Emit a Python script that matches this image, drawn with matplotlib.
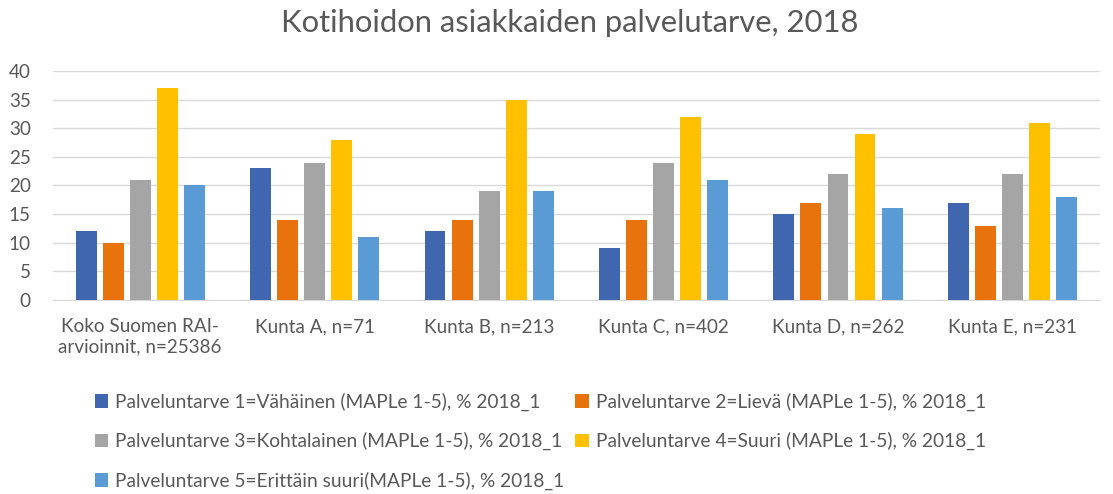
import numpy as np
import matplotlib
matplotlib.use("Agg")
import matplotlib.pyplot as plt

plt.rcParams['font.family'] = ['Lato', 'DejaVu Sans']

kategoriat = ["Koko Suomen RAI-\narvioinnit, n=25386", "Kunta A, n=71", "Kunta B, n=213",
              "Kunta C, n=402", "Kunta D, n=262", "Kunta E, n=231"]
sarjat = ["Palveluntarve 1=Vähäinen (MAPLe 1-5), % 2018_1",
          "Palveluntarve 2=Lievä (MAPLe 1-5), % 2018_1",
          "Palveluntarve 3=Kohtalainen (MAPLe 1-5), % 2018_1",
          "Palveluntarve 4=Suuri (MAPLe 1-5), % 2018_1",
          "Palveluntarve 5=Erittäin suuri(MAPLe 1-5), % 2018_1"]
tarve1 = [12, 23, 12, 9, 15, 17]
tarve2 = [10, 14, 14, 14, 17, 13]
tarve3 = [21, 24, 19, 24, 22, 22]
tarve4 = [37, 28, 35, 32, 29, 31]
tarve5 = [20, 11, 19, 21, 16, 18]
arvot = [tarve1, tarve2, tarve3, tarve4, tarve5]
varit = ["#4066B0", "#E8720C", "#A5A5A5", "#FFC000", "#5B9BD5"]
teksti = "#595959"

fig = plt.figure(figsize=(11.13, 4.94), dpi=100)
ax = fig.add_axes([0.0476, 0.3927, 0.9404, 0.4636])

x = np.arange(len(kategoriat))
leveys = 0.12
askel = 0.155
palkit = []
for i, (nimi, v, c) in enumerate(zip(sarjat, arvot, varit)):
    b = ax.bar(x + (i - 2) * askel, v, width=leveys, color=c, label=nimi, zorder=3)
    palkit.append(b)

ax.set_xlim(-0.5, len(kategoriat) - 0.5)
ax.set_ylim(0, 40)
ax.set_yticks(range(0, 41, 5))
ax.yaxis.grid(True, color="#D9D9D9", lw=1, zorder=0)
for s in ["top", "right", "left"]:
    ax.spines[s].set_visible(False)
ax.spines["bottom"].set_color("#D9D9D9")
ax.tick_params(axis="both", length=0, colors=teksti, labelsize=13.6)
ax.tick_params(axis="y", pad=16)
ax.tick_params(axis="x", pad=13)
ax.set_xticks(x)
ax.set_xticklabels(kategoriat, linespacing=1.25)

fig.suptitle("Kotihoidon asiakkaiden palvelutarve, 2018", x=0.512, y=0.982,
             fontsize=22.3, color=teksti)

# legend rivit: 1|2, 3|4, 5
jarj = [0, 2, 4, 1, 3]
fig.legend([palkit[k] for k in jarj], [sarjat[k] for k in jarj], loc="upper left",
           bbox_to_anchor=(0.085, 0.205), ncol=2, frameon=False, fontsize=13.8,
           labelcolor=teksti, handlelength=0.7, handleheight=0.7, handletextpad=0.35,
           labelspacing=1.1, columnspacing=0.6, borderaxespad=0, borderpad=0)

fig.savefig("out.png", dpi=100, facecolor="white")
